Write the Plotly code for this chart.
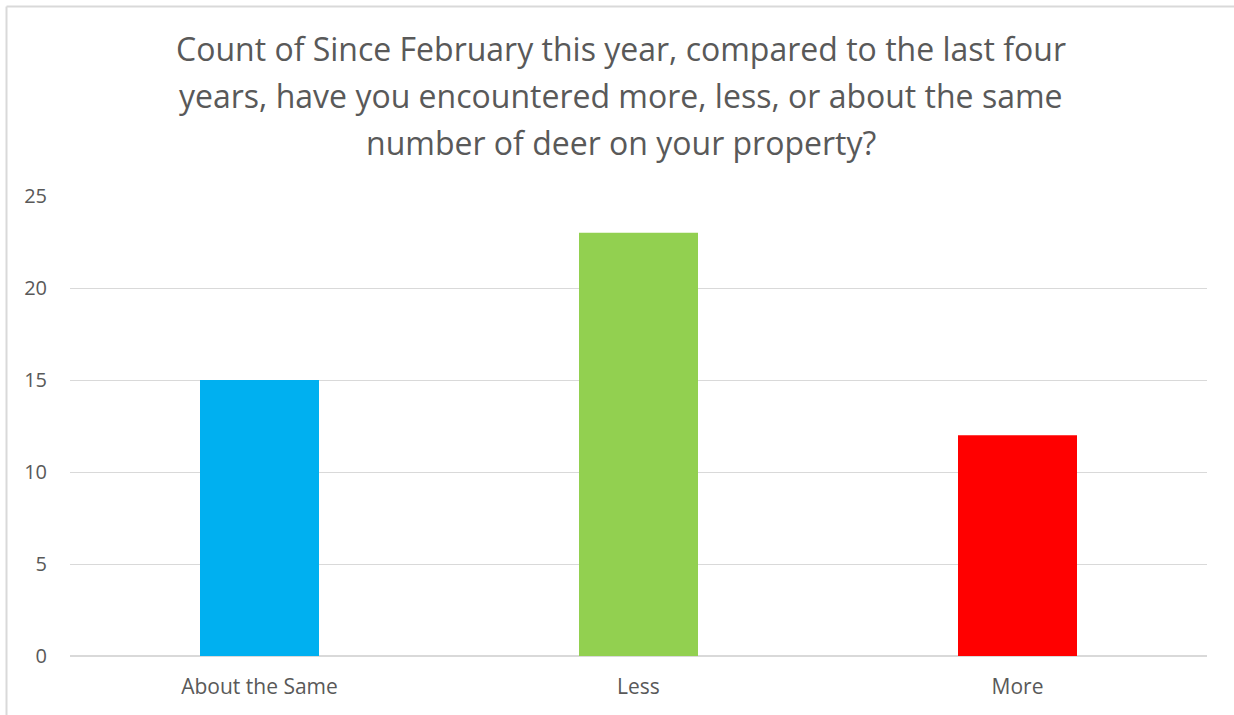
import plotly.graph_objects as go

categories = ["About the Same", "Less", "More"]
counts = [15, 23, 12]
bar_colors = ["#00B0F0", "#92D050", "#FF0000"]
title_lines = [
    "Count of Since February this year, compared to the last four",
    "years, have you encountered more, less, or about the same",
    "number of deer on your property?",
]
y_ticks = [0, 5, 10, 15, 20, 25]

FONT = "Open Sans, Liberation Sans, sans-serif"
TXT = "#595959"
PW, PH, L, B = 1137.0, 460.0, 70.0, 59.0

def px_x(p):
    return (p - L) / PW

def px_y(p):
    return (715 - B - p) / PH

fig = go.Figure(go.Bar(x=categories, y=counts, marker=dict(color=bar_colors, line=dict(width=0))))

title_y = [49, 96, 142]
for line, yp in zip(title_lines, title_y):
    fig.add_annotation(text=line, xref="paper", yref="paper", x=px_x(621),
                       y=px_y(yp), xanchor="center", yanchor="middle",
                       showarrow=False, font=dict(family=FONT, size=32, color=TXT))

border = dict(color="#d9d9d9", width=2)
fig.update_layout(
    width=1234, height=715,
    margin=dict(l=70, r=27, t=196, b=59),
    paper_bgcolor="white", plot_bgcolor="white",
    bargap=0.686, showlegend=False,
    font=dict(family=FONT, color=TXT),
    shapes=[
        dict(type="line", xref="paper", yref="paper", x0=px_x(6.5), x1=px_x(1234),
             y0=px_y(6.5), y1=px_y(6.5), line=border, layer="below"),
        dict(type="line", xref="paper", yref="paper", x0=px_x(6.5), x1=px_x(6.5),
             y0=px_y(6.5), y1=px_y(715), line=border, layer="below"),
    ],
)
fig.update_xaxes(showgrid=False, showline=False, ticks="", tickfont=dict(size=21, color=TXT),
                 ticklabelstandoff=16)
fig.update_yaxes(range=[0, 25], tickvals=y_ticks, showgrid=True, gridcolor="#d9d9d9", gridwidth=1,
                 zeroline=True, zerolinecolor="#d9d9d9", zerolinewidth=2, showline=False,
                 ticks="", tickfont=dict(size=20, color=TXT), ticklabelstandoff=22)

fig.write_html("out.html")
